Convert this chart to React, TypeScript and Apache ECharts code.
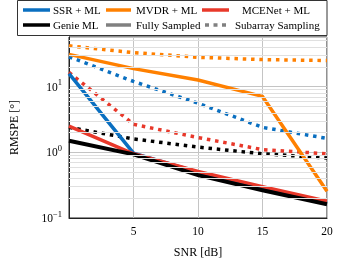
import React, { useEffect, useRef } from "react";
import * as echarts from "echarts";

const snr = [0, 5, 10, 15, 20];
const ssrFull = [15.8, 0.97, 0.5, 0.29, 0.17];
const ssrSub = [28.5, 12, 5.6, 2.4, 1.63];
const mvdrFull = [31, 18.8, 12.6, 7.1, 0.255];
const mvdrSub = [41.8, 33, 28, 25.8, 25];
const mceFull = [2.5, 0.95, 0.51, 0.3, 0.18];
const mceSub = [16.5, 2.67, 1.68, 1.1, 0.95];
const genieFull = [1.5, 0.93, 0.45, 0.264, 0.162];
const genieSub = [2.4, 1.6, 1.2, 0.95, 0.82];

const xTicks = [5, 10, 15, 20];
const minorTicks = [0.2, 0.3, 0.4, 0.5, 0.6, 0.7, 0.8, 0.9, 2, 3, 4, 5, 6, 7, 8, 9, 20, 30, 40, 50];

const legendRow1 = ["SSR + ML", "MVDR + ML", "MCENet + ML"];
const legendRow2 = ["Genie ML", "Fully Sampled", "Subarray Sampling"];

const BLUE = "#0a6fc0";
const ORANGE = "#ff8000";
const RED = "#e8382a";
const BLACK = "#000000";
const GRAY = "#808080";
const FONT = '"Liberation Serif", "DejaVu Serif", serif';

const pairs = (ys: number[]) => snr.map((x, i) => [x, ys[i]]);

export default function App() {
  const ref = useRef<HTMLDivElement>(null);
  useEffect(() => {
    if (!ref.current) return;
    const chart = echarts.init(ref.current, undefined, { renderer: "svg" });
    const solid = (name: string, ys: number[], color: string, w = 3.5, z = 3) => ({
      type: "line",
      name,
      data: pairs(ys),
      symbol: "none",
      z,
      lineStyle: { color, width: w, type: "solid", cap: "butt", join: "miter" },
    });
    const dotted = (name: string, ys: number[], color: string, z = 2) => ({
      type: "line",
      name,
      data: pairs(ys),
      symbol: "none",
      z,
      lineStyle: { color, width: 3.5, type: [3.5, 4.8], cap: "butt" },
    });
    const legendText = (t: string, x: number, y: number) => ({
      type: "text",
      z: 11,
      style: { text: t, x, y, font: `11px ${FONT}`, fill: "#000", verticalAlign: "middle" },
    });
    const legendLine = (x1: number, x2: number, y: number, color: string, dash?: number[]) => ({
      type: "line",
      z: 11,
      shape: { x1, y1: y, x2, y2: y },
      style: { stroke: color, lineWidth: 3.5, lineDash: dash, lineCap: "butt" },
    });
    const r1 = 10;
    const r2 = 25;
    chart.setOption({
      animation: false,
      grid: { left: 58, right: 12, top: 37, bottom: 41, show: true, borderColor: "#222", borderWidth: 1, backgroundColor: "transparent" },
      xAxis: {
        type: "value",
        min: 0,
        max: 20,
        interval: 5,
        name: "SNR [dB]",
        nameLocation: "middle",
        nameGap: 28,
        nameTextStyle: { fontFamily: FONT, fontSize: 12, color: "#000" },
        axisLine: { show: true, lineStyle: { color: "#222", width: 1 } },
        axisTick: { show: false },
        axisLabel: {
          fontFamily: FONT,
          fontSize: 11.5,
          color: "#000",
          margin: 7,
          formatter: (v: number) => (xTicks.includes(v) ? String(v) : ""),
        },
        splitLine: { show: true, lineStyle: { color: "#c4c4c4", width: 1 } },
      },
      yAxis: {
        type: "log",
        logBase: 10,
        min: 0.1,
        max: 57,
        name: "RMSPE [°]",
        nameLocation: "middle",
        nameGap: 49,
        nameTextStyle: { fontFamily: FONT, fontSize: 12, color: "#000" },
        axisLine: { show: true, lineStyle: { color: "#222", width: 1 } },
        axisTick: { show: false },
        axisLabel: {
          showMaxLabel: false,
          margin: 7,
          formatter: (v: number) => {
            const e = Math.round(Math.log10(v));
            return `{b|10}{s|${e < 0 ? "\u2212" + -e : e}}`;
          },
          rich: {
            b: { fontFamily: FONT, fontSize: 11.5, color: "#000", lineHeight: 18 },
            s: { fontFamily: FONT, fontSize: 8.5, color: "#000", verticalAlign: "top", lineHeight: 9 },
          },
        },
        splitLine: { show: true, lineStyle: { color: "#c4c4c4", width: 1 } },
      },
      series: [
        {
          type: "line",
          name: "minor",
          data: [],
          z: 1,
          silent: true,
          markLine: {
            silent: true,
            symbol: ["none", "none"],
            label: { show: false },
            lineStyle: { color: "#e0e0e0", width: 1, type: "solid" },
            emphasis: { disabled: true },
            data: minorTicks.map((v) => ({ yAxis: v })),
          },
        },
        dotted("SSR sub", ssrSub, BLUE),
        dotted("MVDR sub", mvdrSub, ORANGE),
        dotted("MCENet sub", mceSub, RED),
        dotted("Genie sub", genieSub, BLACK),
        solid("SSR full", ssrFull, BLUE),
        solid("MVDR full", mvdrFull, ORANGE),
        solid("MCENet full", mceFull, RED),
        solid("Genie full", genieFull, BLACK, 4),
      ],
      graphic: [
        {
          type: "rect",
          z: 10,
          shape: { x: 17.5, y: 0.5, width: 309.5, height: 35 },
          style: { fill: "#fff", stroke: "#333", lineWidth: 1 },
        },
        legendLine(23, 50, r1, BLUE),
        legendText(legendRow1[0], 53, r1),
        legendLine(106, 131, r1, ORANGE),
        legendText(legendRow1[1], 136, r1),
        legendLine(202, 229, r1, RED),
        legendText(legendRow1[2], 242, r1),
        legendLine(23, 50, r2, BLACK),
        legendText(legendRow2[0], 53, r2),
        legendLine(106, 131, r2, GRAY),
        legendText(legendRow2[1], 136, r2),
        legendLine(205, 230, r2, GRAY, [4, 4.5]),
        legendText(legendRow2[2], 235, r2),
      ],
    });
    return () => chart.dispose();
  }, []);
  return <div ref={ref} style={{ position: "fixed", left: 0, top: 0, width: 339, height: 263 }} />;
}
